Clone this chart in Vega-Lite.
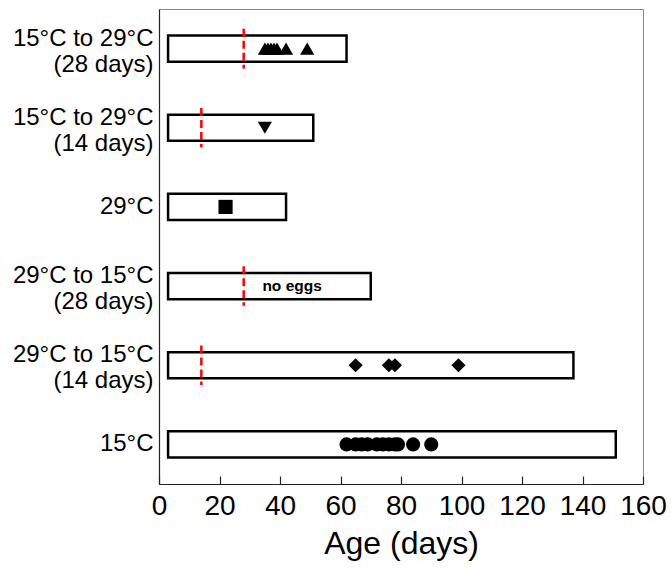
{
  "$schema": "https://vega.github.io/schema/vega-lite/v6.json",
  "width": 484,
  "height": 475,
  "autosize": "none",
  "padding": {"left": 159, "top": 9, "right": 28, "bottom": 87},
  "background": "white",
  "config": {
    "view": {"stroke": "#888888", "strokeWidth": 1},
    "font": "Liberation Sans"
  },
  "datasets": {
    "boxes": [
      {"cond": "15°C to 29°C (28 days)", "start": 3, "end": 62},
      {"cond": "15°C to 29°C (14 days)", "start": 3, "end": 51},
      {"cond": "29°C", "start": 3, "end": 42},
      {"cond": "29°C to 15°C (28 days)", "start": 3, "end": 70},
      {"cond": "29°C to 15°C (14 days)", "start": 3, "end": 137},
      {"cond": "15°C", "start": 3, "end": 151}
    ],
    "switches": [
      {"cond": "15°C to 29°C (28 days)", "day": 28},
      {"cond": "15°C to 29°C (14 days)", "day": 14},
      {"cond": "29°C to 15°C (28 days)", "day": 28},
      {"cond": "29°C to 15°C (14 days)", "day": 14}
    ],
    "eggs": [
      {"cond": "15°C to 29°C (28 days)", "age": 35},
      {"cond": "15°C to 29°C (28 days)", "age": 36},
      {"cond": "15°C to 29°C (28 days)", "age": 37},
      {"cond": "15°C to 29°C (28 days)", "age": 38},
      {"cond": "15°C to 29°C (28 days)", "age": 39},
      {"cond": "15°C to 29°C (28 days)", "age": 42},
      {"cond": "15°C to 29°C (28 days)", "age": 49},
      {"cond": "15°C to 29°C (14 days)", "age": 35},
      {"cond": "29°C", "age": 22},
      {"cond": "29°C to 15°C (14 days)", "age": 65},
      {"cond": "29°C to 15°C (14 days)", "age": 76},
      {"cond": "29°C to 15°C (14 days)", "age": 78},
      {"cond": "29°C to 15°C (14 days)", "age": 99},
      {"cond": "15°C", "age": 62},
      {"cond": "15°C", "age": 65},
      {"cond": "15°C", "age": 67},
      {"cond": "15°C", "age": 69},
      {"cond": "15°C", "age": 72},
      {"cond": "15°C", "age": 74},
      {"cond": "15°C", "age": 76},
      {"cond": "15°C", "age": 78},
      {"cond": "15°C", "age": 79},
      {"cond": "15°C", "age": 84},
      {"cond": "15°C", "age": 90}
    ],
    "notes": [
      {"cond": "29°C to 15°C (28 days)", "x": 44, "note": "no eggs"}
    ]
  },
  "encoding": {
    "y": {
      "field": "cond",
      "type": "nominal",
      "scale": {
        "domain": ["15°C to 29°C (28 days)", "15°C to 29°C (14 days)", "29°C", "29°C to 15°C (28 days)", "29°C to 15°C (14 days)", "15°C"],
        "paddingInner": 0.5,
        "paddingOuter": 0.25
      },
      "axis": {
        "title": null,
        "ticks": false,
        "domain": true,
        "domainColor": "#222222",
        "domainWidth": 1.2,
        "labelFontSize": 24,
        "labelColor": "black",
        "labelPadding": 6,
        "labelLineHeight": 26,
        "labelLimit": 0,
        "labelOffset": {"condition": {"test": "indexof(datum.label, ' (') > 0", "value": -10}, "value": 0},
        "labelExpr": "indexof(datum.label, ' (') > 0 ? [substring(datum.label, 0, indexof(datum.label, ' (')), substring(datum.label, indexof(datum.label, ' (') + 1)] : datum.label"
      }
    }
  },
  "layer": [
    {
      "data": {"name": "boxes"},
      "mark": {"type": "bar", "fill": "white", "stroke": "black", "strokeWidth": 2.5, "height": {"band": 0.66}},
      "encoding": {
        "x": {
          "field": "start",
          "type": "quantitative",
          "scale": {"domain": [0, 160], "nice": false},
          "title": "Age (days)",
          "axis": {
            "values": [0, 5, 10, 15, 20, 25, 30, 35, 40, 45, 50, 55, 60, 65, 70, 75, 80, 85, 90, 95, 100, 105, 110, 115, 120, 125, 130, 135, 140, 145, 150, 155, 160],
            "labelExpr": "datum.value % 20 === 0 ? datum.label : ''",
            "labelOverlap": false,
            "labelFlush": false,
            "grid": false,
            "domainColor": "#222222",
            "domainWidth": 1.2,
            "tickColor": "#222222",
            "tickWidth": 1.2,
            "tickSize": {"condition": {"test": "datum.value % 20 === 0", "value": -8}, "value": -4},
            "labelPadding": 16,
            "labelFontSize": 28,
            "labelColor": "black",
            "titleFontSize": 32,
            "titleFontWeight": "normal",
            "titleColor": "black",
            "titlePadding": 8
          }
        },
        "x2": {"field": "end"}
      }
    },
    {
      "data": {"name": "switches"},
      "mark": {"type": "rule", "color": "#ff0000", "strokeWidth": 2.5, "strokeDash": [8, 4]},
      "encoding": {
        "x": {"field": "day", "type": "quantitative"},
        "y": {"field": "cond", "type": "nominal", "bandPosition": 0},
        "y2": {"field": "cond", "bandPosition": 1}
      }
    },
    {
      "data": {"name": "eggs"},
      "mark": {"type": "point", "filled": true, "color": "black", "opacity": 1, "size": 200},
      "encoding": {
        "x": {"field": "age", "type": "quantitative"},
        "shape": {
          "field": "cond",
          "type": "nominal",
          "scale": {
            "domain": ["15°C to 29°C (28 days)", "15°C to 29°C (14 days)", "29°C", "29°C to 15°C (28 days)", "29°C to 15°C (14 days)", "15°C"],
            "range": ["triangle-up", "triangle-down", "square", "cross", "diamond", "circle"]
          },
          "legend": null
        }
      }
    },
    {
      "data": {"name": "notes"},
      "mark": {"type": "text", "fontWeight": "bold", "fontSize": 15.5, "color": "black"},
      "encoding": {
        "x": {"field": "x", "type": "quantitative"},
        "text": {"field": "note"}
      }
    }
  ]
}
